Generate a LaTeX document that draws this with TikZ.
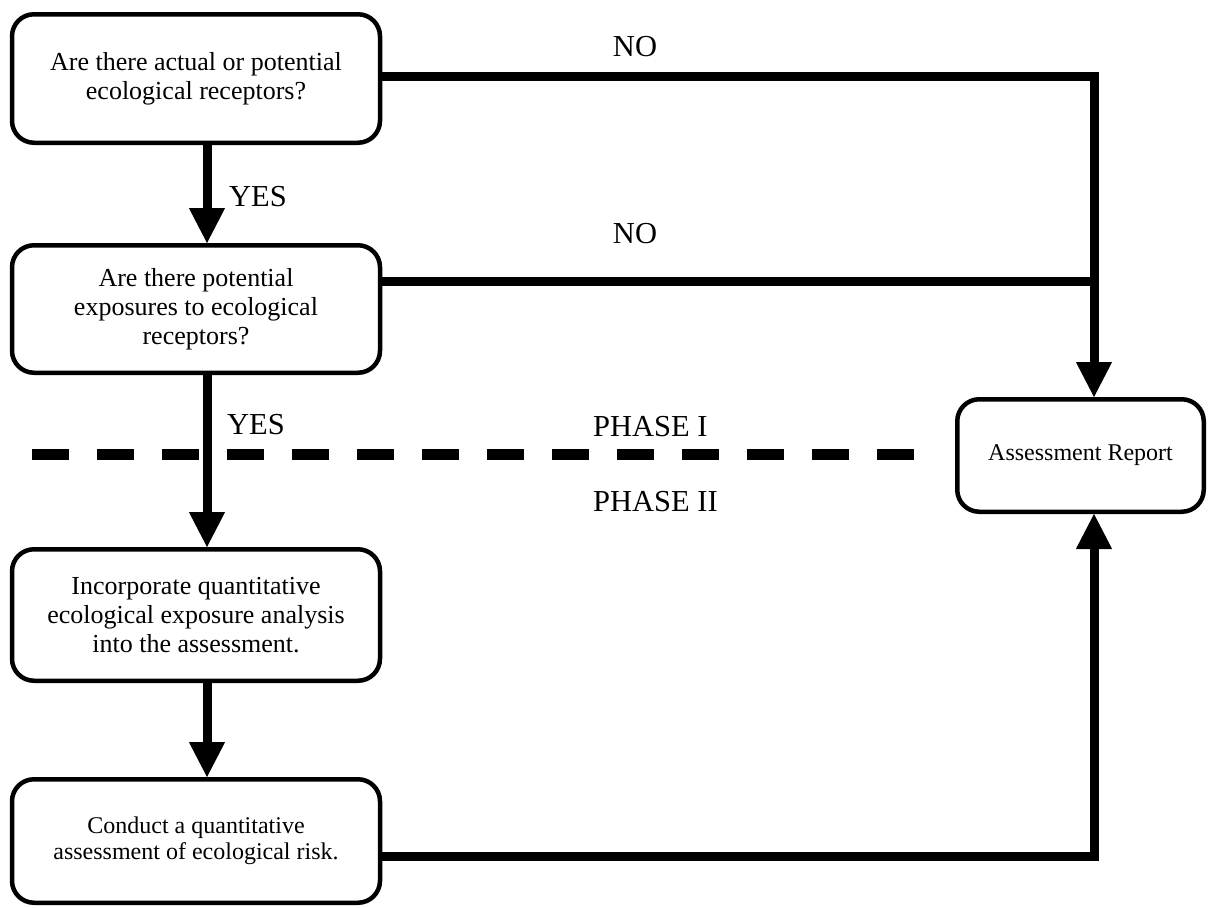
\documentclass[tikz,border=0pt]{standalone}
\usepackage{fontspec}
\setmainfont{Liberation Serif}
\usetikzlibrary{arrows.meta}
\begin{document}
\begin{tikzpicture}[x=1pt,y=-1pt,
  box/.style={draw, line width=4.5pt, rounded corners=22pt, minimum width=368pt, align=center, inner sep=0pt, font=\fontsize{26}{29}\selectfont},
  conn/.style={line width=9pt, line join=miter},
  arr/.style={-{Triangle[width=36pt,length=35pt,line width=1pt]}},
  lbl/.style={font=\fontsize{30.5}{34}\selectfont, inner sep=0pt},
  phase/.style={line width=11pt, dash pattern=on 37pt off 28pt}
]
\useasboundingbox (0,0) rectangle (1208,908);

\node[box, minimum height=128.5pt] (b1) at (196,78.5) {Are there actual or potential\\ecological receptors?};
\node[box, minimum height=127.5pt] (b2) at (196,309) {Are there potential\\exposures to ecological\\receptors?};
\node[box, minimum height=131.5pt] (b3) at (196,615) {Incorporate quantitative\\ecological exposure analysis\\into the assessment.};
\node[box, minimum height=123.5pt, font=\fontsize{24}{26}\selectfont] (b4) at (196,841) {Conduct a quantitative\\assessment of ecological risk.};
\node[box, minimum width=246.5pt, minimum height=112.5pt, font=\fontsize{24}{28}\selectfont] (ar) at (1080.5,455.5) {Assessment Report};

\coordinate (col) at (207,0);
\coordinate (jr) at (1094,0);
\coordinate (n1) at (0,76);
\coordinate (n2) at (0,281);
\coordinate (n4) at (0,856);
\coordinate (dl) at (32,454);
\coordinate (dr) at (914,454);

\draw[conn,arr] (b1.east |- n1) -| (ar.north -| jr);
\draw[conn] (b2.east |- n2) -- (jr |- n2);
\draw[conn,arr] (b1.south -| col) -- (b2.north -| col);
\draw[conn,arr] (b2.south -| col) -- (b3.north -| col);
\draw[conn,arr] (b3.south -| col) -- (b4.north -| col);
\draw[conn,arr] (b4.east |- n4) -| (ar.south -| jr);

\draw[phase] (dl) -- (dr);

\node[lbl] (no1) at (635,47) {NO};
\node[lbl] (no2) at (635,234) {NO};
\node[lbl, anchor=west] (yes1) at (229,197) {YES};
\node[lbl, anchor=west] (yes2) at (227,425) {YES};
\node[lbl, anchor=west] (p1) at (593,427) {PHASE I};
\node[lbl, anchor=west] (p2) at (593,502) {PHASE II};
\end{tikzpicture}
\end{document}
